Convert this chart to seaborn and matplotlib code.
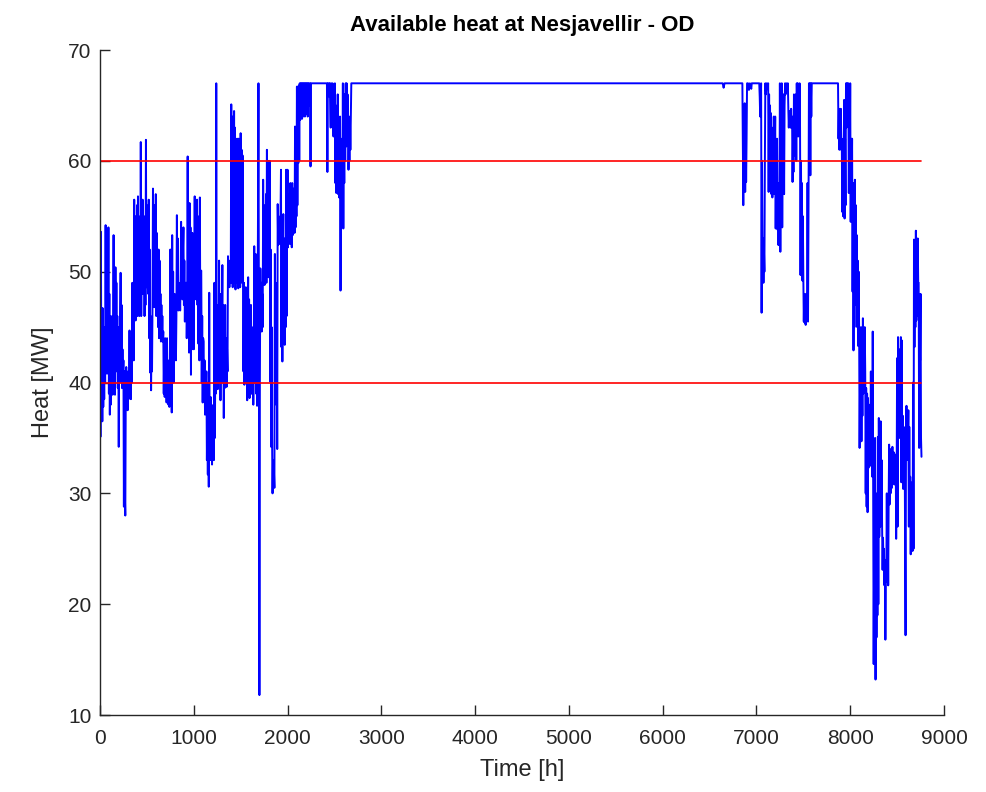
import numpy as np
import pandas as pd
import seaborn as sns
import matplotlib
matplotlib.use('Agg')
import matplotlib.pyplot as plt

# hand-read hourly heat profile (hour, MW) from the reference plot
hours = [
    0, 5, 10, 15, 20, 25, 30, 35, 40, 45, 50, 55, 60, 65, 70, 75, 80, 85, 90, 95,
    100, 105, 110, 115, 120, 125, 130, 135, 140, 145, 150, 155, 160, 165, 170, 175, 180, 185, 190, 195,
    200, 205, 210, 215, 220, 225, 230, 235, 240, 245, 250, 255, 260, 265, 270, 275, 280, 285, 290, 295,
    300, 305, 310, 315, 320, 325, 330, 335, 340, 345, 350, 355, 360, 365, 370, 375, 380, 385, 390, 395,
    400, 405, 410, 415, 420, 425, 430, 435, 440, 445, 450, 455, 460, 465, 470, 475, 480, 485, 490, 495,
    500, 505, 510, 515, 520, 525, 530, 535, 540, 545, 550, 555, 560, 565, 570, 575, 580, 585, 590, 595,
    600, 605, 610, 615, 620, 625, 630, 635, 640, 645, 650, 655, 660, 665, 670, 675, 680, 685, 690, 695,
    700, 705, 710, 715, 720, 725, 730, 735, 740, 745, 750, 755, 760, 765, 770, 775, 780, 785, 790, 795,
    800, 805, 810, 815, 820, 825, 830, 835, 840, 845, 850, 855, 860, 865, 870, 875, 880, 885, 890, 895,
    900, 905, 910, 915, 920, 925, 930, 935, 940, 945, 950, 955, 960, 965, 970, 975, 980, 985, 990, 995,
    1000, 1005, 1010, 1015, 1020, 1025, 1030, 1035, 1040, 1045, 1050, 1055, 1060, 1065, 1070, 1075, 1080, 1085, 1090, 1095,
    1100, 1105, 1110, 1115, 1120, 1125, 1130, 1135, 1140, 1145, 1150, 1155, 1160, 1165, 1170, 1175, 1180, 1185, 1190, 1195,
    1200, 1205, 1210, 1215, 1220, 1225, 1230, 1235, 1240, 1245, 1250, 1255, 1260, 1265, 1270, 1275, 1280, 1285, 1290, 1295,
    1300, 1305, 1310, 1315, 1320, 1325, 1330, 1335, 1340, 1345, 1350, 1355, 1360, 1365, 1370, 1375, 1380, 1385, 1390, 1395,
    1400, 1405, 1410, 1415, 1420, 1425, 1430, 1435, 1440, 1445, 1450, 1455, 1460, 1465, 1470, 1475, 1480, 1485, 1490, 1495,
    1500, 1505, 1510, 1515, 1520, 1525, 1530, 1535, 1540, 1545, 1550, 1555, 1560, 1565, 1570, 1575, 1580, 1585, 1590, 1595,
    1600, 1605, 1610, 1615, 1620, 1625, 1630, 1635, 1640, 1645, 1650, 1655, 1660, 1665, 1670, 1675, 1680, 1690, 1695,
    1700, 1705, 1710, 1715, 1720, 1725, 1730, 1735, 1740, 1745, 1750, 1755, 1760, 1765, 1770, 1775, 1780, 1785, 1790, 1795,
    1800, 1805, 1810, 1815, 1820, 1825, 1830, 1835, 1840, 1845, 1850, 1855, 1860, 1865, 1870, 1875, 1880, 1885, 1890, 1895,
    1900, 1905, 1910, 1915, 1920, 1925, 1930, 1935, 1940, 1945, 1950, 1955, 1960, 1965, 1970, 1975, 1980, 1985, 1990, 1995,
    2000, 2005, 2010, 2015, 2020, 2025, 2030, 2035, 2040, 2045, 2050, 2055, 2060, 2065, 2070, 2075, 2080, 2085, 2090, 2095,
    2100, 2105, 2110, 2115, 2120, 2125, 2130, 2135, 2140, 2145, 2150, 2155, 2160, 2165, 2170, 2175, 2180, 2185, 2190, 2195,
    2200, 2205, 2210, 2215, 2220, 2225, 2230, 2240, 2245, 2250,
    2420, 2425, 2430, 2440, 2445, 2450, 2460, 2465, 2475, 2480, 2490, 2495,
    2500, 2505, 2510, 2515, 2520, 2525, 2530, 2535, 2540, 2545, 2550, 2555, 2560, 2565, 2570, 2575, 2580, 2585, 2590, 2595,
    2600, 2605, 2610, 2615, 2620, 2625, 2630, 2635, 2640, 2645, 2650, 2655, 2660, 2665, 2670, 2680, 2690,
    6640, 6650, 6660,
    6850, 6860, 6865, 6870, 6875, 6880, 6885, 6890, 6895, 6900, 6910, 6920, 6930, 6945, 6950,
    7030, 7035, 7040, 7050, 7055, 7060, 7065, 7070, 7075, 7080, 7085, 7090, 7095,
    7100, 7110, 7120, 7125, 7130, 7135, 7140, 7145, 7150, 7155, 7160, 7165, 7170, 7175, 7180, 7185, 7190, 7195,
    7200, 7205, 7210, 7215, 7220, 7225, 7230, 7235, 7240, 7245, 7250, 7255, 7260, 7265, 7270, 7275, 7280, 7285, 7290, 7295,
    7300, 7305, 7310, 7320, 7330, 7335, 7340, 7345, 7350, 7355, 7360, 7365, 7370, 7375, 7380, 7385, 7390, 7395,
    7400, 7405, 7410, 7415, 7420, 7425, 7430, 7435, 7440, 7445, 7450, 7455, 7460, 7465, 7470, 7475, 7480, 7485, 7490, 7495,
    7500, 7505, 7510, 7515, 7520, 7525, 7530, 7535, 7540, 7545, 7550, 7555, 7560, 7565, 7570, 7575, 7580, 7585, 7590,
    7870, 7875, 7880, 7885, 7890, 7895, 7900, 7905, 7910, 7915, 7920, 7925, 7930, 7935, 7940, 7945, 7950, 7955, 7960, 7965,
    7970, 7975, 7980, 7985, 7990, 7995, 8000, 8005, 8010, 8015, 8020, 8025, 8030, 8035, 8040, 8045, 8050, 8055, 8060, 8065,
    8070, 8075, 8080, 8085, 8090, 8095, 8100, 8105, 8110, 8115, 8120, 8125, 8130, 8135, 8140, 8145, 8150, 8155, 8160, 8165,
    8170, 8175, 8180, 8185, 8190, 8195, 8200, 8205, 8210, 8215, 8220, 8225, 8230, 8235, 8240, 8245, 8250, 8255, 8260, 8265,
    8270, 8275, 8280, 8285, 8290, 8295, 8300, 8305, 8310, 8315, 8320, 8325, 8330, 8335, 8340, 8345, 8350, 8355, 8360, 8365,
    8370, 8375, 8380, 8385, 8390, 8395, 8400, 8405, 8410, 8415, 8420, 8425, 8430, 8435, 8440, 8445, 8450, 8455, 8460, 8465,
    8470, 8475, 8480, 8485, 8490, 8495, 8500, 8505, 8510, 8515, 8520, 8525, 8530, 8535, 8540, 8545, 8550, 8555, 8560, 8565,
    8570, 8575, 8580, 8590, 8595, 8600, 8605, 8610, 8615, 8620, 8625, 8630, 8635, 8640, 8645, 8650, 8655, 8660, 8665, 8670,
    8675, 8680, 8685, 8690, 8695, 8700, 8705, 8710, 8715, 8720, 8725, 8730, 8735, 8740, 8745, 8750, 8755, 8760,
]

heat = [
    46, 35.1, 53.6, 38, 46.7, 36.5, 46.7, 37.8, 44, 38.5, 45, 40, 54.2, 41, 52, 40.8, 50, 42, 54, 39,
    48, 37.1, 46, 38, 45, 39.5, 46, 38.9, 44, 53.3, 40, 48, 38.9, 50.4, 41, 49, 42, 46, 39.5, 45,
    34.2, 44, 40, 46, 49.9, 41, 47, 39.5, 43, 40, 42, 28.8, 41, 30, 28.0, 39, 41.4, 38, 40.5, 37.5,
    41, 38.5, 40, 44.7, 39, 43, 38.5, 44, 40, 49, 43, 47, 42, 56.5, 46, 55, 45.6, 52, 47, 56,
    46, 56.8, 47, 55, 46, 54, 47, 61.7, 46, 55, 48, 56.5, 53.5, 48, 55, 46, 53, 47, 61.9, 48.6,
    56, 49, 55, 48, 56.5, 44, 52, 40.9, 46, 39.3, 45, 41, 47, 57.5, 47, 55, 46.8, 56, 48, 57,
    46, 53.5, 47, 51.2, 45, 52, 44, 51, 44, 48, 43.7, 47, 44, 46, 43.7, 44.6, 39, 43, 38.7, 44,
    39.5, 42, 38.2, 44, 39, 42, 38, 41, 37.8, 40, 52, 40, 48, 37.3, 53.3, 41, 50, 40, 46, 48,
    43, 47, 42, 46, 55.1, 47, 53, 46.5, 49, 47, 48.5, 46.5, 49, 54.5, 48, 53, 47.5, 52, 54, 47,
    51, 45.5, 49, 47, 49, 44, 47, 60.4, 45, 50, 42.7, 56.2, 44, 54, 40.7, 52, 43, 53.5, 45, 51,
    43, 50, 56.8, 49, 55, 47.5, 53, 56.5, 47, 55, 43.5, 52, 42, 56.7, 45, 50, 50.1, 40, 46, 38.2,
    44, 43.7, 39, 42, 37.1, 41, 38.5, 41, 33, 38, 31.7, 40, 30.6, 48.1, 33, 36, 38.7, 33, 37, 32.6,
    36, 34, 38, 33, 49, 35, 42, 39, 67, 41, 47, 39.4, 44, 40, 51, 41, 48, 38.4, 46, 40,
    45, 50.6, 40, 47, 36.8, 44, 39.5, 47, 40, 44, 39.6, 43, 41, 51.4, 49, 51, 48.6, 50, 49, 51,
    65.1, 49, 64, 48.6, 63, 50, 64.5, 49, 63, 48.4, 62, 50, 61.4, 49, 62, 48.5, 62, 49, 61.5, 48.6,
    62.5, 50, 61, 49, 60.5, 51.6, 41, 49, 39.8, 48, 42, 48.6, 40, 46, 38.4, 45, 49.5, 40, 47.5, 38.6,
    46, 40, 47, 39, 45, 39, 44, 38, 43, 52.3, 40, 48, 51.6, 39, 47, 37.9, 44, 67, 45,
    11.8, 40, 50.3, 45, 49, 44.6, 48, 45, 58.3, 49, 56, 48.8, 55, 50, 57, 49, 61, 50, 59, 49.5,
    60, 51, 60, 40.1, 52, 34.2, 45, 35, 30.0, 33, 31, 32, 30.5, 51.6, 40, 49, 38, 47, 34, 56.1,
    52.4, 55, 53, 54.1, 52.5, 55, 59.2, 43.2, 55, 41.9, 52, 55.2, 44, 53, 43.4, 50, 45, 59.2, 46, 54,
    59.2, 52.2, 57, 53, 56, 52.5, 58, 53, 55, 52.2, 58, 53.3, 57.5, 54, 56, 53.5, 63.1, 54, 61, 55,
    66.7, 56, 64, 59.8, 66.8, 60, 67, 63.7, 67, 64.5, 67, 63.8, 67, 64, 67, 65, 67, 64, 67, 64.2,
    67, 65.5, 67, 64, 67, 65, 67, 67, 59.5, 67,
    67, 59, 67, 67, 65.8, 67, 63.0, 67, 65.8, 67, 62.2, 66,
    64, 67, 58, 65, 57.1, 63, 58, 66, 57, 62, 56.7, 60, 64, 48.3, 62, 58, 60, 57, 67, 53.9,
    64, 58, 66, 60, 67, 61.3, 67, 62, 66, 64.3, 59.2, 63, 60, 64, 61, 67, 67,
    67, 66.6, 67,
    67, 56.0, 63, 58, 65.2, 57.2, 64, 58.1, 62, 67, 67, 66.4, 67, 66.5, 67,
    67, 65.8, 64, 67, 46.3, 60, 50, 53, 49, 52, 50, 60, 67,
    66, 67, 66.5, 67, 57.2, 66, 59, 65, 58, 64.3, 57, 63, 56.7, 62, 58, 64, 57, 60,
    64, 53.9, 60, 55, 62, 53.8, 58, 52.4, 57, 53, 67, 51.8, 64, 55, 67, 54, 62, 60, 66, 57,
    65, 67, 66, 67, 66.5, 67, 64.7, 63, 64.5, 63.2, 64, 63, 64.7, 63, 64, 58.1, 62, 59,
    66, 60.5, 65.5, 61, 66, 60, 67, 63, 67, 62.2, 66, 63, 67, 63, 49.7, 60, 52, 58, 49.2, 55,
    49.5, 45.5, 48, 45.4, 47.5, 45.2, 48, 45.6, 47, 58, 45.5, 55, 67, 62, 67, 58.7, 67, 64, 67,
    67, 62, 64.7, 61, 64, 62, 64.7, 61, 62, 55.4, 60, 55.0, 60, 65.5, 54.8, 62, 56, 67, 63, 67,
    63.5, 67, 67, 57.1, 64, 59, 67, 54.5, 62, 56, 62, 48.2, 58, 42.9, 55, 45, 58.3, 48, 56, 47,
    53.3, 45, 51, 43.3, 50, 45, 34.1, 40, 36, 45, 34.7, 43, 37, 45.8, 39, 44, 40, 45, 41, 30,
    39.5, 28.8, 39, 28.3, 38.6, 32.3, 37, 33, 38, 32.5, 41, 33, 39, 31.5, 44.6, 30, 14.6, 25, 16, 35,
    13.2, 30, 17, 26.4, 19, 35.1, 20, 36.8, 26.1, 34, 27, 36.5, 28, 33, 27, 23.1, 26, 23.5, 25, 21.7,
    24, 16.8, 22, 22.5, 30, 22, 28, 21.7, 29.5, 34.4, 29, 33, 30, 34, 33.5, 30.5, 34.2, 31, 33, 33.7,
    30.8, 33, 31, 33.5, 25.9, 31, 42.2, 27, 44.1, 37, 41.5, 35, 43, 36.5, 44.1, 31, 43.8, 32, 37, 30.4,
    36, 31, 35, 17.2, 35, 37.9, 33, 37, 34, 37.5, 27, 36, 29, 31.5, 24.5, 30, 25, 31, 24.8, 40,
    25, 52.9, 43.2, 48.8, 45, 53.7, 45.6, 52.9, 46, 53, 49, 49, 34.1, 47, 42, 48, 35, 33.3,
]

limits = [40, 60]          # MW reference lines
limit_span = [0, 8760]     # hours

df = pd.DataFrame({'Time': hours, 'Heat': heat})

sns.set_style('ticks')
plt.rcParams['font.family'] = ['Liberation Sans', 'DejaVu Sans']

fig = plt.figure(figsize=(9.86, 7.92), dpi=100)
ax = fig.add_axes([0.1014, 0.0972, 0.856, 0.8396])

sns.lineplot(data=df, x='Time', y='Heat', ax=ax, color='#0000ff',
             linewidth=1.4, estimator=None, sort=False)
for lim in limits:
    sns.lineplot(x=limit_span, y=[lim, lim], ax=ax, color='#ff0000', linewidth=1.2)

ax.set_xlim(0, 9000)
ax.set_ylim(10, 70)
ax.set_xticks(range(0, 9001, 1000))
ax.set_yticks(range(10, 71, 10))

for s in ['top', 'right']:
    ax.spines[s].set_visible(False)
for s in ['left', 'bottom']:
    ax.spines[s].set_color('#262626')
    ax.spines[s].set_linewidth(1.0)

ax.tick_params(axis='both', direction='in', length=7, width=1.0, color='#262626',
               labelsize=15, labelcolor='#262626')
ax.tick_params(axis='x', pad=10)
ax.tick_params(axis='y', pad=6)

ax.set_xlabel('Time [h]', fontsize=17, color='#262626', labelpad=8)
ax.set_ylabel('Heat [MW]', fontsize=17, color='#262626', labelpad=10)
ax.set_title('Available heat at Nesjavellir - OD', fontsize=16, fontweight='bold',
             color='black', pad=14)

plt.savefig('out.png', dpi=100)
